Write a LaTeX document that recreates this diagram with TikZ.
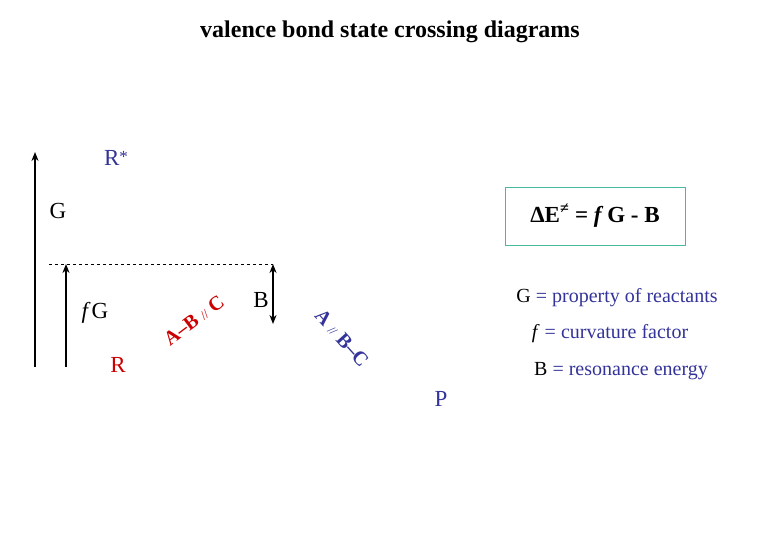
\documentclass[tikz,border=0pt]{standalone}
\usepackage{fontspec}
\setmainfont{Liberation Serif}
\usetikzlibrary{arrows.meta, positioning}
\definecolor{statebl}{RGB}{51,51,153}
\definecolor{statered}{RGB}{204,0,0}
\definecolor{boxteal}{RGB}{70,185,160}

\begin{document}
\begin{tikzpicture}[x=1pt, y=-1pt, every node/.style={inner sep=0pt},
    lbl/.style={font=\fontsize{23}{26}\selectfont},
    leg/.style={font=\fontsize{20}{23}\selectfont, color=statebl},
    curve/.style={font=\fontsize{20}{23}\selectfont\bfseries},
    axis/.style={line width=1.5pt, -{Stealth[length=9pt, width=7pt]}}]
    \useasboundingbox (0,0) rectangle (780,540);

    % Title
    \node[font=\fontsize{24}{28}\selectfont\bfseries] (title) at (390,32) {valence bond state crossing diagrams};

    % Energy axes
    \coordinate (gbot) at (35,367);
    \coordinate (gtop) at (35,152);
    \draw[axis] (gbot) -- (gtop);
    \coordinate (fgbot) at (66,367);
    \coordinate (fgtop) at (66,264);
    \draw[axis] (fgbot) -- (fgtop);

    % Crossing level and resonance energy
    \coordinate (lvlL) at (49,264);
    \coordinate (lvlR) at (273,264);
    \coordinate (bbot) at (273,324);
    \draw[dashed, thin] (lvlL) -- (lvlR);
    \draw[line width=1.5pt, {Stealth[length=9pt, width=7pt]}-{Stealth[length=9pt, width=7pt]}] (lvlR) -- (bbot);

    % Labels
    \node[lbl, color=statebl] (rstar) at (116,158) {R{\fontsize{17}{17}\selectfont\raisebox{3pt}{*}}};
    \node[lbl] (glab) at (58,211) {G};
    \node[lbl] (fglab) at (95,313) {\textit{f}\kern1pt G};
    \node[lbl, color=statered] (rlab) at (118,365) {R};
    \node[lbl] (blab) at (261,300) {B};
    \node[lbl, color=statebl] (plab) at (441,399) {P};

    % Crossing curves
    \node[curve, color=statered, rotate=37] (abc) at (194,320) {A–B {\fontsize{13}{13}\mdseries\selectfont //} C};
    \node[curve, color=statebl, rotate=-48] (bca) at (342,338) {A {\fontsize{13}{13}\mdseries\selectfont //} B–C};

    % Barrier formula
    \node[draw=boxteal, thick, minimum width=180pt, minimum height=58pt,
          font=\fontsize{23}{27}\selectfont\bfseries] (formula) at (595,216)
          {ΔE\textsuperscript{≠} = \textit{f}\,G - B};

    % Legend
    \node[leg] (leg1) at (617,298) {\textcolor{black}{G} = property of reactants};
    \node[leg] (leg2) at (610,334) {\textcolor{black}{\textit{f}} = curvature factor};
    \node[leg] (leg3) at (621,371) {\textcolor{black}{B} = resonance energy};
\end{tikzpicture}
\end{document}
